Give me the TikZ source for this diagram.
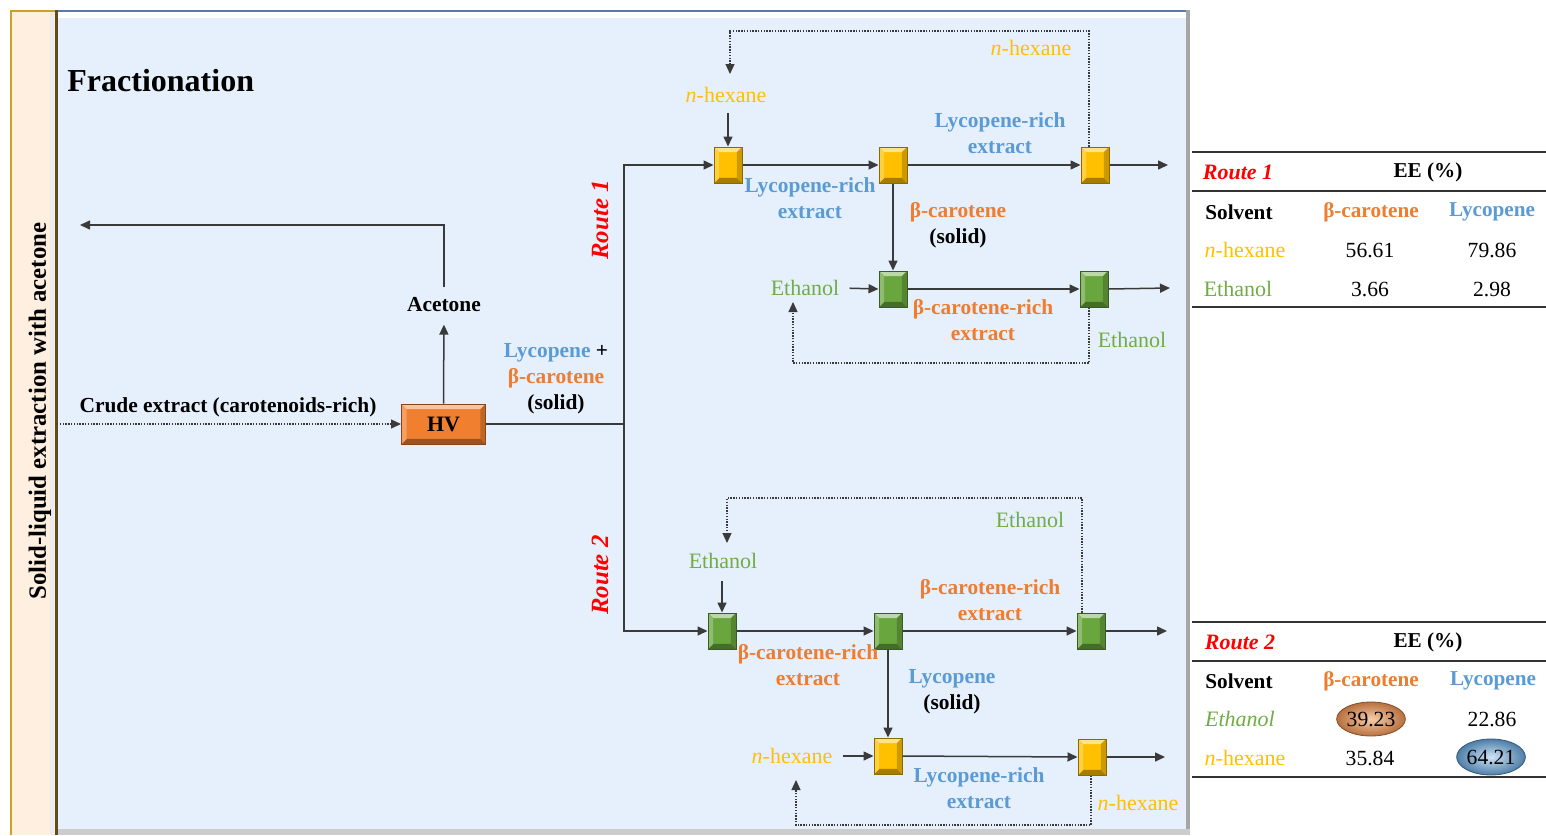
\documentclass[tikz,border=0pt]{standalone}
\usepackage{fontspec}
\setmainfont{Liberation Serif}
\usetikzlibrary{arrows.meta,shapes.geometric}
\definecolor{panel}{HTML}{E6EFFC}
\definecolor{peach}{HTML}{FFEFE1}
\definecolor{barGold}{HTML}{C9A227}
\definecolor{barDark}{HTML}{5E4B1E}
\definecolor{topBlue}{HTML}{5A7BA8}
\definecolor{cyellow}{HTML}{FFC000}
\definecolor{cgreen}{HTML}{70AD47}
\definecolor{corange}{HTML}{ED7D31}
\definecolor{cblue}{HTML}{5B9BD5}
\definecolor{cred}{HTML}{FF0000}
\definecolor{linegray}{HTML}{3A3A3A}
\definecolor{cubeY}{HTML}{FFC000}
\definecolor{cubeG}{HTML}{6AA63E}
\definecolor{hvOrange}{HTML}{F07F2F}
\definecolor{ellOin}{HTML}{F9CDA8}
\definecolor{ellOout}{HTML}{B8703F}
\definecolor{ellBin}{HTML}{CFE3F5}
\definecolor{ellBout}{HTML}{4E7EA8}
\begin{document}
\begin{tikzpicture}[x=0.5pt,y=-0.5pt,
  lbl/.style={font=\fontsize{10.7}{13}\selectfont\bfseries, align=center, inner sep=1pt},
  sol/.style={font=\fontsize{11}{13}\selectfont, align=center, inner sep=1pt},
  tb/.style={font=\fontsize{10.6}{13}\selectfont\bfseries, inner sep=1pt},
  num/.style={font=\fontsize{10.8}{13}\selectfont, inner sep=1pt},
  arr/.style={draw=linegray, line width=0.75pt, -{Triangle[length=5pt,width=4.5pt]}},
  ln/.style={draw=linegray, line width=0.75pt},
  dotarr/.style={draw=linegray, line width=0.6pt, dash pattern=on 0.7pt off 0.7pt, -{Triangle[length=5pt,width=4.5pt]}},
  rule/.style={draw=black!80, line width=1pt},
  bevel/.style={fill=#1, draw=#1!55!black, line width=0.5pt, inner sep=0pt,
    path picture={
      \path (path picture bounding box.north west) coordinate (q1)
            (path picture bounding box.north east) coordinate (q2)
            (path picture bounding box.south east) coordinate (q3)
            (path picture bounding box.south west) coordinate (q4);
      \path ([shift={(2.6pt,-2.6pt)}]q1) coordinate (i1)
            ([shift={(-2.6pt,-2.6pt)}]q2) coordinate (i2)
            ([shift={(-2.6pt,2.6pt)}]q3) coordinate (i3)
            ([shift={(2.6pt,2.6pt)}]q4) coordinate (i4);
      \fill[#1!45!white] (q1)--(q2)--(i2)--(i1)--cycle;
      \fill[#1!65!black] (q4)--(q3)--(i3)--(i4)--cycle;
      \fill[#1!75!white] (q1)--(i1)--(i4)--(q4)--cycle;
      \fill[#1!80!black] (q2)--(i2)--(i3)--(q3)--cycle;
    }},
  ycube/.style={bevel=cubeY, minimum width=14pt, minimum height=18pt},
  gcube/.style={bevel=cubeG, minimum width=14pt, minimum height=18pt},
  hvbox/.style={bevel=hvOrange, minimum width=42pt, minimum height=20pt, font=\fontsize{11}{12}\selectfont\bfseries},
  ell/.style n args={2}{ellipse, inner color=#1, outer color=#2, draw=#2!70!black, line width=0.4pt, minimum width=33pt, minimum height=17pt, inner sep=0pt, font=\fontsize{10.8}{12}\selectfont}
]
\useasboundingbox (0,0) rectangle (1546,835);
\fill[white] (0,0) rectangle (1546,835);
% main panel
\fill[panel] (57,10) rectangle (1190,835);
\fill[white] (57,11) rectangle (1190,18);
\draw[topBlue, line width=1pt] (57,10.5) -- (1190,10.5);
\fill[black!35] (1186,10) rectangle (1190,835);
\fill[black!20] (57,829) rectangle (1190,835);
% left bar
\fill[peach] (10,10) rectangle (57,835);
\fill[black!8] (50,10) rectangle (54,835);
\draw[barGold, line width=1.2pt] (11,10) -- (11,835);
\draw[barGold, line width=1pt] (10,10.5) -- (57,10.5);
\draw[barDark, line width=1.5pt] (56,10) -- (56,835);
\node[lbl, rotate=90, font=\fontsize{12.4}{14}\selectfont\bfseries] (bartxt) at (40,411) {Solid-liquid extraction with acetone};

\node[anchor=west, font=\fontsize{16}{20}\selectfont\bfseries, inner sep=0pt] (title) at (67,81) {Fractionation};

% crude extract and HV
\node[lbl] (crude) at (228,407) {Crude extract (carotenoids-rich)};
\node[hvbox] (hv) at (443.5,424) {HV};
\coordinate (cstart) at (57,424);
\draw[dotarr] (cstart) -- (hv.west);
\node[lbl] (acet) at (444,305) {Acetone};
\draw[arr, shorten >=5pt] (hv.north) -- (acet.south);
\coordinate (aceout) at (80,225);
\draw[arr, shorten <=4pt] (acet.north) |- (aceout);
\node[lbl] (mix) at (556,379) {\textcolor{cblue}{Lycopene} +\\\textcolor{corange}{β-carotene}\\(solid)};
\coordinate (br) at (624,424);
\draw[ln] (hv.east) -- (br);

\node[lbl, rotate=90, text=cred, font=\fontsize{12.4}{13}\selectfont\bfseries\itshape] (r1) at (600,220) {Route 1};
\node[lbl, rotate=90, text=cred, font=\fontsize{12.4}{13}\selectfont\bfseries\itshape] (r2) at (600,575) {Route 2};

% ---------- Route 1
\node[ycube] (y1) at (728,165) {};
\node[ycube] (y2) at (893,165) {};
\node[ycube] (y3) at (1095,165) {};
\coordinate (o1) at (1168,165);
\draw[arr] (br) |- (y1.west);
\draw[arr] (y1.east) -- (y2.west);
\draw[arr] (y2.east) -- (y3.west);
\draw[arr] (y3.east) -- (o1);
\node[sol, text=cyellow] (hx1) at (726,95) {\textit{n}-hexane};
\draw[arr, shorten <=4pt] (y1.north |- hx1.south) -- (y1.north);
\node[sol, text=cyellow] (hx1b) at (1031,48) {\textit{n}-hexane};
\coordinate (l1a) at (1089,31);
\coordinate (l1b) at (730,31);
\coordinate (l1c) at (730,74);
\draw[dotarr] (y3.north -| l1a) -- (l1a) -- (l1b) -- (l1c);
\node[lbl, text=cblue] (lr1) at (810,198) {Lycopene-rich\\extract};
\node[lbl, text=cblue] (lr2) at (1000,133) {Lycopene-rich\\extract};
\node[lbl] (bs1) at (958,225) {\textcolor{corange}{β-carotene}\\(solid)};

\node[gcube] (g1) at (893,289) {};
\node[gcube] (g2) at (1094,289) {};
\draw[arr] (y2.south) -- (g1.north);
\draw[arr] (g1.east) -- (g2.west);
\coordinate (o2) at (1170,288);
\draw[arr] (g2.east) -- (o2);
\node[sol, text=cgreen] (et1) at (805,288) {Ethanol};
\draw[arr, shorten <=4pt] (et1.east) -- (g1.west);
\node[lbl, text=corange] (bcr1) at (983,320) {β-carotene-rich\\extract};
\node[sol, text=cgreen] (et1b) at (1132,340) {Ethanol};
\coordinate (l2a) at (1089,363);
\coordinate (l2b) at (793,363);
\coordinate (l2c) at (793,302);
\draw[dotarr] (g2.south -| l2a) -- (l2a) -- (l2b) -- (l2c);

% ---------- Route 2
\node[gcube] (g3) at (722,631) {};
\node[gcube] (g4) at (888,631) {};
\node[gcube] (g5) at (1091,631) {};
\coordinate (o3) at (1167,631);
\draw[arr] (br) |- (g3.west);
\draw[arr] (g3.east) -- (g4.west);
\draw[arr] (g4.east) -- (g5.west);
\draw[arr] (g5.east) -- (o3);
\node[sol, text=cgreen] (et2) at (723,561) {Ethanol};
\draw[arr, shorten <=5pt] (g3.north |- et2.south) -- (g3.north);
\node[sol, text=cgreen] (et2b) at (1030,520) {Ethanol};
\coordinate (l3a) at (1082,498);
\coordinate (l3b) at (727,498);
\coordinate (l3c) at (727,543);
\draw[dotarr] (g5.north -| l3a) -- (l3a) -- (l3b) -- (l3c);
\node[lbl, text=corange] (bcr2) at (808,665) {β-carotene-rich\\extract};
\node[lbl, text=corange] (bcr3) at (990,600) {β-carotene-rich\\extract};
\node[lbl] (ls) at (952,692) {\textcolor{cblue}{Lycopene}\\(solid)};

\node[ycube] (y4) at (888,756) {};
\node[ycube] (y5) at (1092,757) {};
\draw[arr] (g4.south) -- (y4.north);
\draw[arr] (y4.east) -- (y5.west);
\coordinate (o4) at (1165,757);
\draw[arr] (y5.east) -- (o4);
\node[sol, text=cyellow] (hx2) at (792,756) {\textit{n}-hexane};
\draw[arr, shorten <=4pt] (hx2.east) -- (y4.west);
\node[lbl, text=cblue] (lr3) at (979,788) {Lycopene-rich\\extract};
\node[sol, text=cyellow] (hx2b) at (1138,803) {\textit{n}-hexane};
\coordinate (l4a) at (1091,825);
\coordinate (l4b) at (796,825);
\coordinate (l4c) at (796,780);
\draw[dotarr] (y5.south -| l4a) -- (l4a) -- (l4b) -- (l4c);

% ---------- Table 1
\draw[rule] (1192,152) -- (1546,152);
\draw[rule] (1192,191) -- (1546,191);
\draw[rule] (1192,307) -- (1546,307);
\node[tb, text=cred, font=\fontsize{11}{12}\selectfont\bfseries\itshape] (t1r) at (1238,172) {Route 1};
\node[tb] (t1ee) at (1428,172) {EE (\%)};
\node[tb] (t1s) at (1239,212) {Solvent};
\node[tb, text=corange] (t1b) at (1371,212) {β-carotene};
\node[tb, text=cblue] (t1l) at (1492,212) {Lycopene};
\node[sol, text=cyellow] (t1h) at (1245,250) {\textit{n}-hexane};
\node[num] (t1a1) at (1370,250) {56.61};
\node[num] (t1a2) at (1492,250) {79.86};
\node[sol, text=cgreen] (t1e) at (1238,289) {Ethanol};
\node[num] (t1b1) at (1370,289) {3.66};
\node[num] (t1b2) at (1492,289) {2.98};

% ---------- Table 2
\draw[rule] (1192,622) -- (1546,622);
\draw[rule] (1192,661) -- (1546,661);
\draw[rule] (1192,777) -- (1546,777);
\node[tb, text=cred, font=\fontsize{11}{12}\selectfont\bfseries\itshape] (t2r) at (1240,642) {Route 2};
\node[tb] (t2ee) at (1428,642) {EE (\%)};
\node[tb] (t2s) at (1239,681) {Solvent};
\node[tb, text=corange] (t2b) at (1371,681) {β-carotene};
\node[tb, text=cblue] (t2l) at (1493,681) {Lycopene};
\node[sol, text=cgreen, font=\fontsize{11}{13}\selectfont\itshape] (t2e) at (1240,719) {Ethanol};
\node[ell={ellOin}{ellOout}] (t2a1) at (1371,719) {39.23};
\node[num] (t2a2) at (1492,719) {22.86};
\node[sol, text=cyellow] (t2h) at (1245,758) {\textit{n}-hexane};
\node[num] (t2b1) at (1370,758) {35.84};
\node[ell={ellBin}{ellBout}, minimum height=18pt] (t2b2) at (1491,757) {64.21};
\end{tikzpicture}
\end{document}
